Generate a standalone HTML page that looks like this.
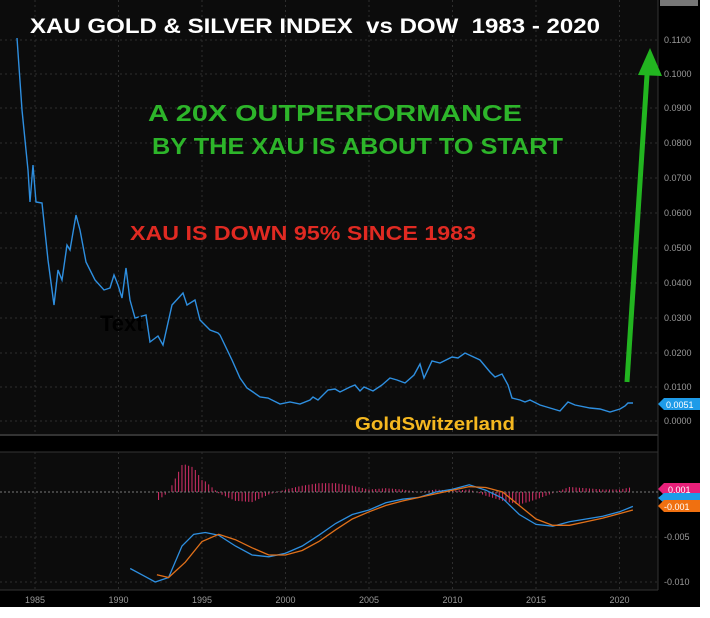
<!DOCTYPE html>
<html><head><meta charset="utf-8"><style>
html,body{margin:0;padding:0;background:#fff}
svg{display:block}
text{font-family:"Liberation Sans",Arial,sans-serif}
</style></head><body>
<svg width="710" height="618" viewBox="0 0 710 618" xmlns="http://www.w3.org/2000/svg">
<rect x="0" y="0" width="700" height="607" fill="#000"/>
<rect x="0" y="0" width="658" height="434" fill="#0c0c0c"/>
<rect x="0" y="452" width="658" height="138" fill="#0c0c0c"/>
<line x1="0" y1="435" x2="658" y2="435" stroke="#444" stroke-width="1.5"/>
<line x1="0" y1="452" x2="658" y2="452" stroke="#333"/>
<line x1="658" y1="0" x2="658" y2="590" stroke="#333"/>
<line x1="0" y1="590" x2="658" y2="590" stroke="#333"/>
<g id="grid" stroke="#2e2e2e" stroke-dasharray="2,3" stroke-width="1"></g>
<g id="axis" fill="#9a9a9a" font-size="9"></g>
<path id="main" fill="none" stroke="#2e8fe0" stroke-width="1.4"/>
<g id="hist" stroke="#d8306a" stroke-width="1"></g>
<line x1="0" y1="492" x2="658" y2="492" stroke="#777" stroke-dasharray="2,2"/>
<path id="blue" fill="none" stroke="#2e8fe0" stroke-width="1.3"/>
<path id="orange" fill="none" stroke="#e0701a" stroke-width="1.3"/>
<path d="M658,404 l6,-6 h36 v12 h-36 z" fill="#1e9be8"/>
<text x="666" y="408" font-size="9" fill="#fff">0.0051</text>
<path d="M658,489 l6,-6 h36 v12 h-36 z" fill="#e8207a"/>
<text x="668" y="493" font-size="9" fill="#fff">0.001</text>
<path d="M658,498 l6,-5 h36 v10 h-36 z" fill="#1e9be8"/>
<path d="M658,506 l6,-6 h36 v12 h-36 z" fill="#f07010"/>
<text x="664" y="510" font-size="9" fill="#fff">-0.001</text>
<rect x="660" y="0" width="38" height="6" fill="#777"/>
<line x1="627" y1="382" x2="647" y2="75" stroke="#22b520" stroke-width="5"/>
<polygon points="650,48 638,75 662,76" fill="#22b520"/>
<text x="30" y="33" font-size="21" font-weight="bold" fill="#fff" textLength="570" lengthAdjust="spacingAndGlyphs" xml:space="preserve">XAU GOLD &amp; SILVER INDEX  vs DOW  1983 - 2020</text>
<text x="148" y="121" font-size="23" font-weight="bold" fill="#2db52a" textLength="374" lengthAdjust="spacingAndGlyphs">A 20X OUTPERFORMANCE</text>
<text x="152" y="154" font-size="23" font-weight="bold" fill="#2db52a" textLength="411" lengthAdjust="spacingAndGlyphs">BY THE XAU IS ABOUT TO START</text>
<text x="130" y="240" font-size="20" font-weight="bold" fill="#e02a22" textLength="346" lengthAdjust="spacingAndGlyphs">XAU IS DOWN 95% SINCE 1983</text>
<text x="100" y="331" font-size="22" font-weight="bold" fill="#000">Text</text>
<text x="355" y="430" font-size="18" font-weight="bold" fill="#f5b820" textLength="160" lengthAdjust="spacingAndGlyphs">GoldSwitzerland</text>
</svg>
<script>
const X=y=>35+(y-1985)*16.7;
const ns="http://www.w3.org/2000/svg";
const g=document.getElementById('grid'),ax=document.getElementById('axis');
function el(p,t,a,txt){const e=document.createElementNS(ns,t);for(const k in a)e.setAttribute(k,a[k]);if(txt)e.textContent=txt;p.appendChild(e);return e;}
for(let y=1985;y<=2020;y+=5){const x=X(y);el(g,'line',{x1:x,y1:0,x2:x,y2:434});el(g,'line',{x1:x,y1:452,x2:x,y2:590});el(ax,'text',{x:x,y:603,'text-anchor':'middle'},String(y));}
const labs=[[0.11,40],[0.10,74],[0.09,108],[0.08,143],[0.07,178],[0.06,213],[0.05,248],[0.04,283],[0.03,318],[0.02,353],[0.01,387],[0,421]];
labs.forEach(([v,y])=>{el(g,'line',{x1:0,y1:y,x2:658,y2:y});el(ax,'text',{x:664,y:y+3},v.toFixed(4));});
[[-0.005,537],[-0.010,582]].forEach(([v,y])=>{el(g,'line',{x1:0,y1:y,x2:658,y2:y});el(ax,'text',{x:664,y:y+3},v.toFixed(3));});
const pts=[[17,38],[22,110],[28,170],[30,202],[33,165],[36,202],[42,203],[48,260],[54,305],[58,270],[62,280],[67,245],[70,250],[76,215],[80,230],[86,262],[95,280],[104,290],[110,288],[114,275],[118,285],[122,298],[126,268],[130,300],[135,318],[146,315],[150,342],[158,336],[163,345],[172,305],[183,293],[187,305],[195,300],[200,320],[210,330],[218,333],[220,335],[232,360],[240,378],[247,388],[253,392],[260,397],[268,398],[280,404],[290,402],[300,404],[310,400],[313,397],[318,400],[328,390],[335,389],[340,392],[350,387],[355,385],[360,391],[364,387],[373,391],[382,385],[390,378],[397,380],[405,383],[414,375],[420,364],[424,378],[432,361],[440,363],[452,357],[458,358],[465,353],[480,360],[490,372],[495,377],[502,374],[508,385],[512,398],[520,400],[525,402],[530,400],[540,405],[550,408],[560,411],[568,402],[575,405],[590,408],[600,409],[610,412],[620,409],[625,406],[628,403],[633,403]];
document.getElementById('main').setAttribute('d','M'+pts.map(p=>p.join(',')).join(' L'));
const Y=v=>492-v*9000;
const B=[[1990.7,-0.0085],[1991.5,-0.0093],[1992.2,-0.0100],[1993,-0.0095],[1993.8,-0.006],[1994.5,-0.0047],[1995.2,-0.0045],[1996,-0.0048],[1997,-0.006],[1998,-0.007],[1999,-0.0072],[2000,-0.0068],[2001,-0.006],[2002,-0.0048],[2003,-0.0035],[2004,-0.0025],[2005,-0.002],[2006,-0.0012],[2007,-0.0008],[2008,-0.0006],[2009,0.0],[2010,0.0003],[2011,0.0008],[2012,0.0002],[2013,-0.0007],[2014,-0.0025],[2015,-0.0036],[2016,-0.0038],[2017,-0.0033],[2018,-0.003],[2019,-0.0027],[2020,-0.0022],[2020.8,-0.0016]];
const O=[[1992.3,-0.0092],[1993,-0.0095],[1994,-0.0078],[1995,-0.0055],[1996,-0.0047],[1997,-0.0053],[1998,-0.0062],[1999,-0.007],[2000,-0.007],[2001,-0.0065],[2002,-0.0055],[2003,-0.0042],[2004,-0.003],[2005,-0.0022],[2006,-0.0015],[2007,-0.001],[2008,-0.0006],[2009,-0.0002],[2010,0.0002],[2011,0.0006],[2012,0.0005],[2013,0.0],[2014,-0.0015],[2015,-0.003],[2016,-0.0037],[2017,-0.0037],[2018,-0.0033],[2019,-0.0029],[2020,-0.0024],[2020.8,-0.002]];
const P=a=>'M'+a.map(p=>X(p[0]).toFixed(1)+','+Y(p[1]).toFixed(1)).join(' L');
document.getElementById('blue').setAttribute('d',P(B));
document.getElementById('orange').setAttribute('d',P(O));
function interp(a,t){if(t<=a[0][0])return a[0][1];for(let i=1;i<a.length;i++)if(t<=a[i][0]){const f=(t-a[i-1][0])/(a[i][0]-a[i-1][0]);return a[i-1][1]+f*(a[i][1]-a[i-1][1]);}return a[a.length-1][1];}
const h=document.getElementById('hist');
for(let t=1992.4;t<=2020.8;t+=0.2){const d=(interp(B,t)-interp(O,t))*1.4*9000;const x=X(t);el(h,'line',{x1:x,y1:492,x2:x,y2:492-d});}
</script>
</body></html>
